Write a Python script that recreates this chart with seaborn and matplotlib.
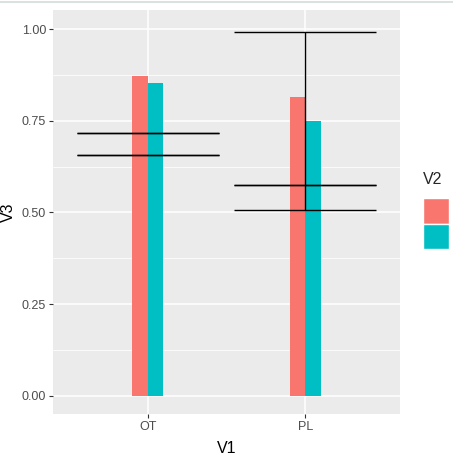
import matplotlib
matplotlib.use("Agg")
import matplotlib.pyplot as plt
from matplotlib.patches import Patch
from matplotlib.lines import Line2D
import seaborn as sns
import pandas as pd
import numpy as np

# ---- data ----
categories = ["OT", "PL"]
groups = ["a", "b"]
values_a = [0.872, 0.816]
values_b = [0.852, 0.749]
# error bars (one per group, drawn at category centre, not dodged)
err_low_a = [0.718, 0.506]
err_high_a = [0.718, 0.991]
err_low_b = [0.658, 0.576]
err_high_b = [0.658, 0.576]
colors = ["#F8766D", "#00BFC4"]
yticks = [0.00, 0.25, 0.50, 0.75, 1.00]
ytick_labels = ["0.00", "0.25", "0.50", "0.75", "1.00"]

df = pd.DataFrame({
    "V1": categories * 2,
    "V2": [groups[0]] * 2 + [groups[1]] * 2,
    "V3": values_a + values_b,
})

sns.set_theme(style="darkgrid")
plt.rcParams["font.family"] = ["Liberation Sans", "DejaVu Sans"]

fig = plt.figure(figsize=(4.53, 4.63), dpi=100)
ax = fig.add_axes([53 / 453, 1 - 414 / 463, 347 / 453, 404 / 463])
ax.set_facecolor("#EBEBEB")

sns.barplot(data=df, x="V1", y="V3", hue="V2", order=categories, hue_order=groups,
            palette=colors, saturation=1, width=0.2, errorbar=None, linewidth=0,
            ax=ax, legend=False, zorder=2)

# error bars
pos = np.arange(len(categories))
for lo, hi in [(err_low_a, err_high_a), (err_low_b, err_high_b)]:
    lo = np.array(lo); hi = np.array(hi)
    ax.hlines(lo, pos - 0.45, pos + 0.45, color="black", linewidth=1.0, zorder=5)
    ax.hlines(hi, pos - 0.45, pos + 0.45, color="black", linewidth=1.0, zorder=5)
    ax.vlines(pos, lo, hi, color="black", linewidth=1.0, zorder=5)

ax.set_xlim(-0.6, 1.6)
ax.set_ylim(-0.0495, 1.052)
ax.set_yticks(yticks)
ax.set_yticklabels(ytick_labels)
ax.set_yticks([0.125, 0.375, 0.625, 0.875], minor=True)

ax.grid(which="major", color="white", linewidth=1.1)
ax.grid(which="minor", axis="y", color="white", linewidth=0.55)
ax.set_axisbelow(True)
for s in ax.spines.values():
    s.set_visible(False)

ax.tick_params(axis="both", which="major", length=3, width=0.8, color="#333333",
               labelsize=9, labelcolor="#4D4D4D", pad=2, left=True, bottom=True)
ax.tick_params(axis="y", which="minor", length=0)

ax.set_xlabel("V1", fontsize=11.5, color="black", labelpad=6)
ax.set_ylabel("V3", fontsize=11.5, color="black", labelpad=4)

# legend
handles = [Patch(facecolor=c, edgecolor="white", linewidth=1.0) for c in colors]
leg = fig.legend(handles, ["", ""], title="V2", loc="upper left",
                 bbox_to_anchor=(423 / 453, 1 - 172 / 463), frameon=False,
                 handlelength=1.7, handleheight=2.2, labelspacing=0.0,
                 borderpad=0, borderaxespad=0, handletextpad=0.3,
                 fontsize=11, title_fontsize=11.5, alignment="left")
leg._legend_box.sep = 8

# thin top border seen in reference
fig.add_artist(Line2D([0, 1], [1 - 1.5 / 463, 1 - 1.5 / 463], color="#D3DBDB",
                      linewidth=1.2, transform=fig.transFigure, zorder=10))

fig.savefig("out.png", dpi=100, facecolor="white")
